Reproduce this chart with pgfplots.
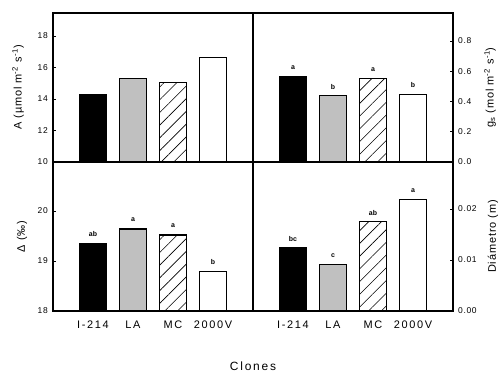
\documentclass[border=0pt]{standalone}
\usepackage{fontspec}
\setmainfont{Liberation Sans}
\usepackage{pgfplots}
\pgfplotsset{compat=1.18}
\usetikzlibrary{patterns.meta}
\definecolor{barg}{HTML}{C0C0C0}
\newcommand\ytf{\fontsize{8.5}{8.5}\selectfont\addfontfeatures{LetterSpace=8}}
\newcommand\xtf{\fontsize{11}{11}\selectfont\addfontfeatures{LetterSpace=15}}
\newcommand\labf{\fontsize{11}{11}\selectfont\addfontfeatures{LetterSpace=8}}
\newcommand\letf{\fontsize{7}{7}\selectfont\bfseries}
\pgfplotsset{
  panel/.style={
    scale only axis, width=200bp, height=149bp, xmin=0, xmax=5,
    xtick=\empty, clip=true, scaled y ticks=false, scaled x ticks=false,
    axis line style={line width=1.1bp},
    major tick length=3bp,
    tick style={line width=0.8bp, black},
    /pgf/number format/assume math mode=true,
    every axis y label/.style={rotate=90, anchor=center, font=\labf},
  },
  lpanel/.style={panel, ytick pos=left,
    yticklabel style={font=\ytf, anchor=east, inner sep=0pt, xshift=-5bp}},
  rpanel/.style={panel, ytick pos=right, yticklabel pos=right,
    yticklabel style={font=\ytf, anchor=west, inner sep=0pt, xshift=5bp}},
  bpanel/.style={xtick={1,2,3,4}, xticklabels={I-214,LA,MC,2000V},
    xtick pos=bottom, major x tick style={draw=none},
    xticklabel style={font=\xtf, anchor=base, inner sep=0pt, yshift=-18bp}},
  bb/.style={ybar, bar width=27bp, bar shift=0pt, draw=black, line width=1.1bp},
  lett/.style={nodes near coords, point meta=explicit symbolic,
    nodes near coords style={font=\letf, anchor=center, yshift=9bp}},
  hatch/.style={fill=white, postaction={pattern={Lines[angle=45,distance=9bp,line width=0.6bp]}}},
}
\begin{document}
\begin{tikzpicture}
\useasboundingbox (0,0) rectangle (500bp,374bp);
% top left: A
\begin{axis}[lpanel, at={(53bp,212bp)}, anchor=south west,
  ymin=10, ymax=19.46, ytick={10,12,14,16,18}, yticklabels={10,12,14,16,18},
  ylabel={A (\textmu mol m\textsuperscript{-2} s\textsuperscript{-1})},
  ylabel style={at={(axis description cs:-0.175,0.5)}}]
\addplot[bb, fill=black] coordinates {(1,14.3)};
\addplot[bb, fill=barg] coordinates {(2,15.3)};
\addplot[bb, hatch] coordinates {(3,15.06)};
\addplot[bb, fill=white] coordinates {(4,16.62)};
\end{axis}
% top right: gs
\begin{axis}[rpanel, at={(253bp,212bp)}, anchor=south west,
  ymin=0, ymax=0.985, ytick={0,0.2,0.4,0.6,0.8}, yticklabels={0.0,0.2,0.4,0.6,0.8},
  ylabel={g\textsubscript{s} (mol m\textsuperscript{-2} s\textsuperscript{-1})},
  ylabel style={at={(axis description cs:1.185,0.5)}}]
\addplot[bb, fill=black, lett] coordinates {(1,0.565) [a]};
\addplot[bb, fill=barg, lett] coordinates {(2,0.437) [b]};
\addplot[bb, hatch, lett] coordinates {(3,0.554) [a]};
\addplot[bb, fill=white, lett] coordinates {(4,0.448) [b]};
\end{axis}
% bottom left: Delta
\begin{axis}[lpanel, bpanel, at={(53bp,63bp)}, anchor=south west,
  ymin=18, ymax=20.98, ytick={18,19,20}, yticklabels={18,19,20},
  ylabel={Δ (‰)},
  ylabel style={at={(axis description cs:-0.155,0.5)}}]
\addplot[bb, fill=black, lett] coordinates {(1,19.35) [ab]};
\addplot[bb, fill=barg, lett] coordinates {(2,19.64) [a]};
\addplot[bb, hatch, lett] coordinates {(3,19.52) [a]};
\addplot[bb, fill=white, lett] coordinates {(4,18.79) [b]};
\end{axis}
% bottom right: diameter
\begin{axis}[rpanel, bpanel, at={(253bp,63bp)}, anchor=south west,
  ymin=0, ymax=0.0292, ytick={0,0.01,0.02}, yticklabels={0.00,0.01,0.02},
  ylabel={Diámetro (m)},
  ylabel style={at={(axis description cs:1.2,0.5)}}]
\addplot[bb, fill=black, lett] coordinates {(1,0.0124) [bc]};
\addplot[bb, fill=barg, lett] coordinates {(2,0.00916) [c]};
\addplot[bb, hatch, lett] coordinates {(3,0.0175) [ab]};
\addplot[bb, fill=white, lett] coordinates {(4,0.0218) [a]};
\end{axis}
\node[font=\fontsize{12}{12}\selectfont\addfontfeatures{LetterSpace=15}, anchor=center] at (253bp,8bp) {Clones};
\end{tikzpicture}
\end{document}
